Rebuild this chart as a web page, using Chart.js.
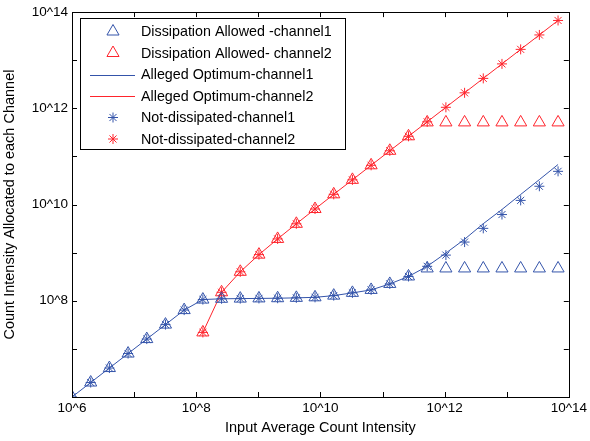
<!DOCTYPE html>
<html>
<head>
<meta charset="utf-8">
<title>Count intensity allocation</title>
<script src="https://cdn.jsdelivr.net/npm/chart.js@4/dist/chart.umd.min.js"></script>
<style>
  html, body { margin: 0; padding: 0; background: #fff; }
  canvas { display: block; }
</style>
</head>
<body>
<canvas id="allocChart" width="590" height="441"></canvas>
<script>
// Input average count intensity (x), one value per marker
const inputIntensity = [1e6, 2e6, 4e6, 8e6, 1.6e7, 3.2e7, 6.4e7, 1.28e8, 2.56e8, 5.12e8,
  1.024e9, 2.048e9, 4.096e9, 8.192e9, 1.6384e10, 3.2768e10, 6.5536e10, 1.31072e11,
  2.62144e11, 5.24288e11, 1.048576e12, 2.097152e12, 4.194304e12, 8.388608e12,
  1.6777216e13, 3.3554432e13, 6.7108864e13];

// Alleged optimum (lines)
const optimumCh1 = [1e6, 2e6, 4e6, 8e6, 1.6e7, 3.2e7, 6.4e7, 1.06e8, 1.1e8, 1.11e8,
  1.12e8, 1.13e8, 1.15e8, 1.18e8, 1.28e8, 1.46e8, 1.68e8, 2.24e8, 3.2e8, 5.2e8,
  9.8e8, 1.9e9, 4.0e9, 7.9e9, 1.62e10, 3.3e10, 6.8e10];
const optimumCh2 = [null, null, null, null, null, null, null, 2.2e7, 1.5e8, 4.0e8,
  9.1e8, 1.93e9, 3.98e9, 8.07e9, 1.63e10, 3.26e10, 6.54e10, 1.31e11, 2.62e11, 5.24e11,
  1.05e12, 2.1e12, 4.19e12, 8.38e12, 1.68e13, 3.35e13, 6.7e13];

// Dissipation allowed (triangles)
const dissipationCh1 = [1e6, 2e6, 4e6, 8e6, 1.6e7, 3.2e7, 6.4e7, 1.06e8, 1.1e8, 1.11e8,
  1.12e8, 1.13e8, 1.15e8, 1.18e8, 1.28e8, 1.46e8, 1.68e8, 2.24e8, 3.2e8, 4.7e8,
  4.7e8, 4.7e8, 4.7e8, 4.7e8, 4.7e8, 4.7e8, 4.7e8];
const dissipationCh2 = [null, null, null, null, null, null, null, 2.2e7, 1.5e8, 4.0e8,
  9.1e8, 1.93e9, 3.98e9, 8.07e9, 1.63e10, 3.26e10, 6.54e10, 1.31e11, 2.62e11, 5.1e11,
  5.1e11, 5.1e11, 5.1e11, 5.1e11, 5.1e11, 5.1e11, 5.1e11];

// Not dissipated (stars)
const notDissipatedCh1 = [1e6, 2e6, 4e6, 8e6, 1.6e7, 3.2e7, 6.4e7, 1.06e8, 1.1e8, 1.11e8,
  1.12e8, 1.13e8, 1.15e8, 1.18e8, 1.28e8, 1.46e8, 1.68e8, 2.24e8, 3.2e8, 5.2e8,
  8.9e8, 1.66e9, 3.2e9, 6.2e9, 1.22e10, 2.4e10, 4.9e10];
const notDissipatedCh2 = [null, null, null, null, null, null, null, 2.2e7, 1.5e8, 4.0e8,
  9.1e8, 1.93e9, 3.98e9, 8.07e9, 1.63e10, 3.26e10, 6.54e10, 1.31e11, 2.62e11, 5.24e11,
  1.05e12, 2.1e12, 4.19e12, 8.38e12, 1.68e13, 3.35e13, 6.7e13];

// Axis ticks: one per decade, labels on even exponents
const decadeTicks = [1e6, 1e7, 1e8, 1e9, 1e10, 1e11, 1e12, 1e13, 1e14];
const xTickLabels = ['10^6', '', '10^8', '', '10^10', '', '10^12', '', '10^14'];
const yTickLabels = ['', '', '10^8', '', '10^10', '', '10^12', '', '10^14'];

const BLUE = 'rgb(52, 84, 170)';
const RED = 'rgb(255, 36, 44)';
const FONT = '"Liberation Sans", Arial, Helvetica, sans-serif';

Chart.defaults.font.family = FONT;
Chart.defaults.color = '#000';

function toPoints(values) {
  return inputIntensity
    .map((x, i) => ({ x: x, y: values[i] }))
    .filter(p => p.y !== null);
}

function markerSet(label, values, color, style, radius) {
  return {
    label: label,
    data: toPoints(values),
    showLine: false,
    borderColor: color,
    backgroundColor: 'rgba(0,0,0,0)',
    pointStyle: style,
    pointRadius: radius,
    pointBorderWidth: 1,
    pointBorderColor: color,
    pointBackgroundColor: 'rgba(0,0,0,0)'
  };
}

function lineSet(label, values, color) {
  return {
    label: label,
    data: toPoints(values),
    showLine: true,
    borderColor: color,
    borderWidth: 1,
    pointRadius: 0,
    fill: false
  };
}

// inward ticks on all four sides plus the box
const frameTicks = {
  id: 'frameTicks',
  afterDatasetsDraw(chart) {
    const { ctx, chartArea: a, scales } = chart;
    ctx.save();
    ctx.strokeStyle = '#000';
    ctx.lineWidth = 1;
    ctx.beginPath();
    decadeTicks.forEach(v => {
      const px = Math.round(scales.x.getPixelForValue(v)) + 0.5;
      ctx.moveTo(px, a.bottom); ctx.lineTo(px, a.bottom - 5);
      ctx.moveTo(px, a.top); ctx.lineTo(px, a.top + 5);
      const py = Math.round(scales.y.getPixelForValue(v)) + 0.5;
      ctx.moveTo(a.left, py); ctx.lineTo(a.left + 5, py);
      ctx.moveTo(a.right, py); ctx.lineTo(a.right - 5, py);
    });
    ctx.stroke();
    ctx.strokeRect(Math.round(a.left) + 0.5, Math.round(a.top) + 0.5,
      Math.round(a.right - a.left), Math.round(a.bottom - a.top));
    ctx.restore();
  }
};

// boxed legend in the upper left corner of the plot
const boxLegend = {
  id: 'boxLegend',
  afterDraw(chart) {
    const { ctx, chartArea: a } = chart;
    const left = Math.round(a.left) + 8, top = Math.round(a.top) + 6;
    const w = 265, h = 131;
    ctx.save();
    ctx.fillStyle = '#fff';
    ctx.fillRect(left, top, w, h);
    ctx.strokeStyle = '#000';
    ctx.lineWidth = 1;
    ctx.strokeRect(left + 0.5, top + 0.5, w, h);
    ctx.font = '14.3px ' + FONT;
    ctx.textBaseline = 'middle';
    ctx.textAlign = 'left';
    chart.data.datasets.forEach((ds, i) => {
      const y = top + 13.5 + i * 21.5;
      ctx.strokeStyle = ds.borderColor;
      if (ds.showLine) {
        ctx.lineWidth = 1;
        ctx.beginPath();
        ctx.moveTo(left + 10, Math.round(y) + 0.5);
        ctx.lineTo(left + 55, Math.round(y) + 0.5);
        ctx.stroke();
      } else {
        ctx.fillStyle = 'rgba(0,0,0,0)';
        ctx.lineWidth = 1;
        Chart.helpers.drawPoint(ctx, {
          pointStyle: ds.pointStyle, radius: ds.pointRadius, rotation: 0, borderWidth: 1
        }, left + 33, y);
      }
      ctx.fillStyle = '#000';
      ctx.fillText(ds.label, left + 61, y + 1);
    });
    ctx.restore();
  }
};

const tickFont = { size: 13.5 };

new Chart(document.getElementById('allocChart'), {
  type: 'scatter',
  data: {
    datasets: [
      markerSet('Dissipation Allowed -channel1', dissipationCh1, BLUE, 'triangle', 7),
      markerSet('Dissipation Allowed- channel2', dissipationCh2, RED, 'triangle', 7),
      lineSet('Alleged Optimum-channel1', optimumCh1, BLUE),
      lineSet('Alleged Optimum-channel2', optimumCh2, RED),
      markerSet('Not-dissipated-channel1', notDissipatedCh1, BLUE, 'star', 5),
      markerSet('Not-dissipated-channel2', notDissipatedCh2, RED, 'star', 5)
    ]
  },
  options: {
    responsive: false,
    animation: false,
    layout: { padding: { top: 10, right: 20, left: 0, bottom: 0 } },
    plugins: {
      legend: { display: false },
      tooltip: { enabled: false }
    },
    scales: {
      x: {
        type: 'logarithmic',
        min: 1e6,
        max: 1e14,
        afterBuildTicks: scale => { scale.ticks = decadeTicks.map(v => ({ value: v })); },
        afterFit: scale => { scale.height = 44; },
        grid: { display: false, drawTicks: false },
        border: { display: false },
        ticks: {
          autoSkip: false,
          maxRotation: 0,
          padding: 3,
          font: tickFont,
          callback: (value, index) => xTickLabels[index]
        },
        title: {
          display: true,
          text: 'Input Average Count Intensity',
          font: { size: 14.5 },
          padding: { top: 0, bottom: 4 }
        }
      },
      y: {
        type: 'logarithmic',
        min: 1e6,
        max: 1e14,
        afterBuildTicks: scale => { scale.ticks = decadeTicks.map(v => ({ value: v })); },
        afterFit: scale => { scale.width = 72; },
        grid: { display: false, drawTicks: false },
        border: { display: false },
        ticks: {
          autoSkip: false,
          padding: 4,
          font: tickFont,
          callback: (value, index) => yTickLabels[index]
        },
        title: {
          display: true,
          text: 'Count Intensity Allocated to each Channel',
          font: { size: 14.5 },
          padding: { top: 1, bottom: 0 }
        }
      }
    }
  },
  plugins: [frameTicks, boxLegend]
});
</script>
</body>
</html>
